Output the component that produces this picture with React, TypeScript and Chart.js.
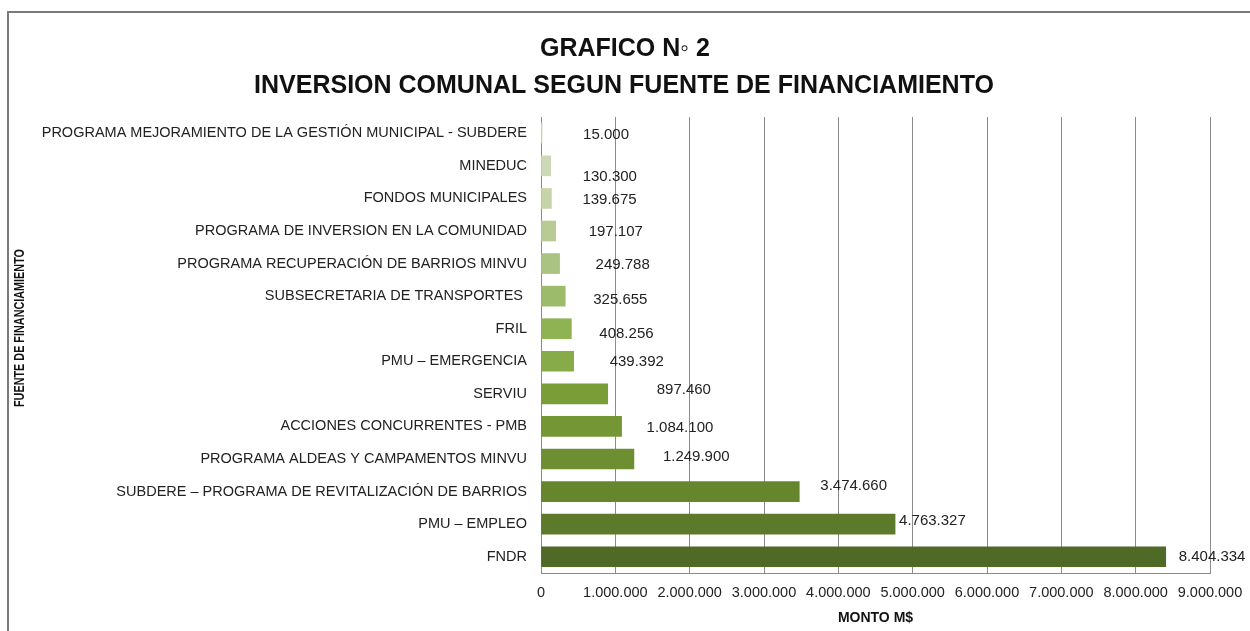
import React, { useEffect, useRef } from "react";
import { Chart, registerables } from "chart.js";

Chart.register(...registerables);

const titleLines = ["GRAFICO N\u25E6 2", "INVERSION COMUNAL SEGUN FUENTE DE FINANCIAMIENTO"];
const xAxisTitle = "MONTO M$";
const yAxisTitle = "FUENTE DE FINANCIAMIENTO";

const categories = [
  "PROGRAMA MEJORAMIENTO DE LA GESTIÓN MUNICIPAL - SUBDERE",
  "MINEDUC",
  "FONDOS MUNICIPALES",
  "PROGRAMA DE INVERSION EN LA COMUNIDAD",
  "PROGRAMA RECUPERACIÓN DE BARRIOS MINVU",
  "SUBSECRETARIA DE TRANSPORTES ",
  "FRIL",
  "PMU – EMERGENCIA",
  "SERVIU",
  "ACCIONES CONCURRENTES - PMB",
  "PROGRAMA ALDEAS Y CAMPAMENTOS MINVU",
  "SUBDERE – PROGRAMA DE REVITALIZACIÓN DE BARRIOS",
  "PMU – EMPLEO",
  "FNDR",
];

const montos = [
  15000, 130300, 139675, 197107, 249788, 325655, 408256, 439392, 897460, 1084100, 1249900,
  3474660, 4763327, 8404334,
];

const barColors = [
  "#d5e0c0", "#cdd9b5", "#c6d4a8", "#b9cb95", "#aac282", "#9cbb6b", "#8fb253",
  "#87ab48", "#7a9d38", "#749634", "#6d8f31", "#66862d", "#5c7a2a", "#4f6a26",
];

// small manual nudges of the value labels (px), as in the original Excel chart
const labelNudgeX = [41, 32, 31, 33, 36, 28, 28, 36, 49, 25, 29, 21, 4, 13];
const labelNudgeY = [2, 11, 1.5, 1, 1, 3.5, 5, 1, -4, 1, -2.5, -6, -3, 0];

const xMin = 0;
const xMax = 9000000;
const xStep = 1000000;

const fmt = (v: number) => String(Math.round(v)).replace(/\B(?=(\d{3})+(?!\d))/g, ".");

const FONT = "'Liberation Sans', Arial, sans-serif";

const decorPlugin = {
  id: "decor",
  beforeDraw(chart: any) {
    const ctx = chart.ctx;
    ctx.save();
    ctx.fillStyle = "#ffffff";
    ctx.fillRect(0, 0, chart.width, chart.height);
    ctx.strokeStyle = "#7a7a7a";
    ctx.lineWidth = 2;
    ctx.beginPath();
    ctx.moveTo(8, chart.height + 2);
    ctx.lineTo(8, 12);
    ctx.lineTo(chart.width + 2, 12);
    ctx.stroke();
    // title
    ctx.fillStyle = "#111111";
    ctx.font = `bold 25px ${FONT}`;
    ctx.textAlign = "center";
    ctx.textBaseline = "middle";
    ctx.fillText(titleLines[0], 625, 49);
    ctx.fillText(titleLines[1], 624, 86);
    ctx.restore();
  },
  afterDatasetsDraw(chart: any) {
    const ctx = chart.ctx;
    const meta = chart.getDatasetMeta(0);
    ctx.save();
    ctx.fillStyle = "#222222";
    ctx.font = `15px ${FONT}`;
    ctx.textAlign = "left";
    ctx.textBaseline = "middle";
    meta.data.forEach((bar: any, i: number) => {
      ctx.fillText(fmt(montos[i]), bar.x + labelNudgeX[i], bar.y + labelNudgeY[i]);
    });
    ctx.restore();
  },
  afterDraw(chart: any) {
    const ctx = chart.ctx;
    const area = chart.chartArea;
    ctx.save();
    ctx.fillStyle = "#111111";
    ctx.font = `bold 14px ${FONT}`;
    ctx.textAlign = "center";
    ctx.textBaseline = "middle";
    ctx.fillText(xAxisTitle, (area.left + area.right) / 2, 618);
    ctx.translate(20, 328);
    ctx.rotate(-Math.PI / 2);
    ctx.font = `bold 12px ${FONT}`;
    const w = ctx.measureText(yAxisTitle).width;
    const target = 158;
    ctx.scale(target / w, 1.15);
    ctx.fillText(yAxisTitle, 0, 0);
    ctx.restore();
  },
};

export default function App() {
  const ref = useRef<HTMLCanvasElement | null>(null);

  useEffect(() => {
    document.body.style.margin = "0";
    const canvas = ref.current;
    if (!canvas) return;
    const chart = new Chart(canvas, {
      type: "bar",
      data: {
        labels: categories,
        datasets: [
          {
            data: montos,
            backgroundColor: barColors,
            borderWidth: 0,
            barThickness: 20,
          },
        ],
      },
      plugins: [decorPlugin],
      options: {
        indexAxis: "y",
        responsive: false,
        animation: false,
        devicePixelRatio: 1,
        layout: { padding: { top: 117, right: 40, left: 0, bottom: 0 } },
        plugins: {
          legend: { display: false },
          title: { display: false },
          tooltip: { enabled: false },
        },
        scales: {
          x: {
            type: "linear",
            min: xMin,
            max: xMax,
            ticks: {
              stepSize: xStep,
              callback: (v: any) => fmt(Number(v)),
              font: { family: FONT, size: 14.5 },
              color: "#222222",
              padding: 11,
              maxRotation: 0,
            },
            grid: { color: "#8a8a8a", lineWidth: 1, drawTicks: false },
            border: { display: true, color: "#8a8a8a", width: 1 },
            afterFit: (s: any) => {
              s.height = 58;
              s.paddingLeft = 0;
              s.paddingRight = 0;
            },
          },
          y: {
            type: "category",
            ticks: {
              font: { family: FONT, size: 14.5 },
              color: "#222222",
              padding: 14,
              autoSkip: false,
            },
            grid: { display: false, drawTicks: false },
            border: { display: true, color: "#8a8a8a", width: 1 },
            afterFit: (s: any) => {
              s.width = 541;
              s.paddingTop = 0;
              s.paddingBottom = 0;
            },
          },
        },
      } as any,
    });
    return () => chart.destroy();
  }, []);

  return (
    <div style={{ position: "absolute", left: 0, top: 0, width: 1250, height: 631 }}>
      <canvas ref={ref} width={1250} height={631} style={{ display: "block" }} />
    </div>
  );
}
